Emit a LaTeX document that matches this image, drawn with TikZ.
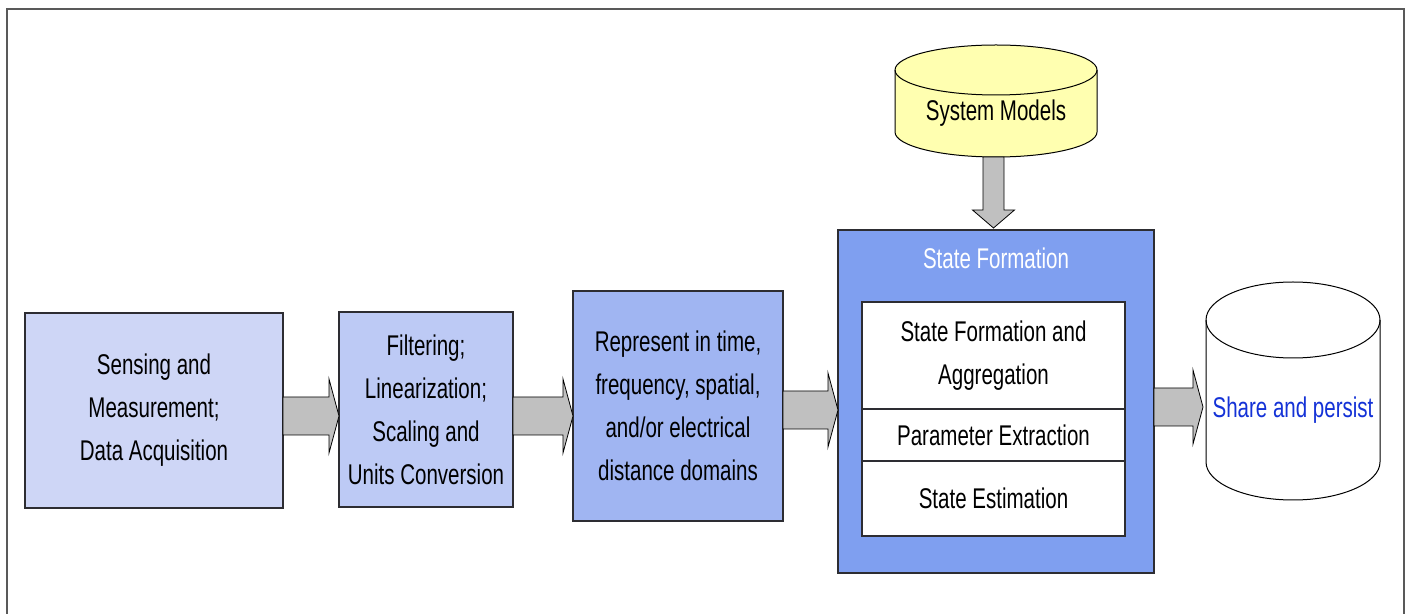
\documentclass[tikz,border=0pt]{standalone}
\usepackage{fontspec}
\setmainfont{Liberation Sans}[FakeStretch=0.72]
\usetikzlibrary{calc}

\definecolor{senseblue}{RGB}{206,214,246}
\definecolor{filtblue}{RGB}{189,202,245}
\definecolor{reprblue}{RGB}{160,181,242}
\definecolor{stateblue}{RGB}{127,159,240}
\definecolor{arrowgray}{RGB}{192,192,192}
\definecolor{modelyellow}{RGB}{255,255,176}
\definecolor{linkblue}{RGB}{20,50,215}
\definecolor{edge}{RGB}{45,45,50}

% horizontal block arrow from #1 to the tip #2
\newcommand\hblock[2]{%
  \draw[blockarrow] let \p1=(#1), \p2=(#2) in
    (\x1,\y1+19pt) -- (\x2-10pt,\y1+19pt) -- (\x2-10pt,\y1+37pt) -- (\x2,\y1)
    -- (\x2-10pt,\y1-37pt) -- (\x2-10pt,\y1-19pt) -- (\x1,\y1-19pt) -- cycle;}
% vertical block arrow pointing down from #1 to the tip #2
\newcommand\vblock[2]{%
  \draw[blockarrow] let \p1=(#1), \p2=(#2) in
    (\x1-10.5pt,\y1) -- (\x1-10.5pt,\y2+18pt) -- (\x1-21pt,\y2+18pt) -- (\x1,\y2)
    -- (\x1+21pt,\y2+18pt) -- (\x1+10.5pt,\y2+18pt) -- (\x1+10.5pt,\y1) -- cycle;}
% drum: centre x, x radius, top y, bottom y, y radius, fill
\newcommand\drum[6]{%
  \filldraw[drumline, fill=#6] (#1-#2,#3) -- (#1-#2,#4)
    arc[start angle=180, end angle=360, x radius=#2, y radius=#5]
    -- (#1+#2,#3)
    arc[start angle=0, end angle=180, x radius=#2, y radius=#5] -- cycle;
  \draw[drumline] (#1-#2,#3)
    arc[start angle=180, end angle=360, x radius=#2, y radius=#5];}

\begin{document}
\begin{tikzpicture}[x=1pt, y=1pt,
    every node/.style={font=\fontsize{28.5}{43}\selectfont, inner sep=0pt, outer sep=0pt},
    box/.style={draw=edge, line width=1.1pt, align=center},
    cell/.style={draw=edge, line width=1.1pt, fill=white, align=center,
                 minimum width=263pt},
    blockarrow/.style={draw=black, line width=0.8pt, fill=arrowgray},
    drumline/.style={draw=black, line width=1pt},
    frame/.style={draw=black!65, line width=1.6pt}]
  \useasboundingbox (0,0) rectangle (1407,613);
  \draw[frame] (7,-10) rectangle (1404,604);

  % processing chain
  \node[box, fill=senseblue, minimum width=258pt, minimum height=195pt]
    (sense) at (154,202.5) {Sensing and\\Measurement;\\Data Acquisition};
  \node[box, fill=filtblue, minimum width=174pt, minimum height=195pt]
    (filt) at (426,203.5) {Filtering;\\Linearization;\\Scaling and\\Units Conversion};
  \node[box, fill=reprblue, minimum width=210pt, minimum height=230pt]
    (repr) at (678,207) {Represent in time,\\frequency, spatial,\\and/or electrical\\distance domains};
  \node[box, fill=stateblue, minimum width=316pt, minimum height=343pt]
    (state) at (996,211.5) {};
  \node[text=white] (statetitle) at (996,355) {State Formation};
  \node[cell, minimum height=107pt] (aggr) at (993.5,257.5) {State Formation and\\Aggregation};
  \node[cell, minimum height=52pt] (param) at (993.5,178) {Parameter Extraction};
  \node[cell, minimum height=75pt] (estim) at (993.5,114.5) {State Estimation};

  % data stores
  \drum{996}{101}{543}{481}{25}{modelyellow}
  \node (models) at (996,500) {System Models};
  \drum{1293}{87}{293}{151}{38}{white}
  \node[text=linkblue] (share) at (1293,203) {Share and persist};

  % block arrows
  \coordinate (a1s) at (sense.east |- 0,197);
  \coordinate (a1e) at (filt.west |- 0,197);
  \coordinate (a2s) at (filt.east |- 0,197);
  \coordinate (a2e) at (repr.west |- 0,197);
  \coordinate (a3s) at (repr.east |- 0,203);
  \coordinate (a3e) at (state.west |- 0,203);
  \coordinate (a4s) at (state.east |- 0,206);
  \coordinate (sharein) at (1203,206);
  \coordinate (models-out) at (993.5,456);
  \coordinate (state-in) at (993.5,385);
  \hblock{a1s}{a1e}
  \hblock{a2s}{a2e}
  \hblock{a3s}{a3e}
  \hblock{a4s}{sharein}
  \vblock{models-out}{state-in}
\end{tikzpicture}
\end{document}
